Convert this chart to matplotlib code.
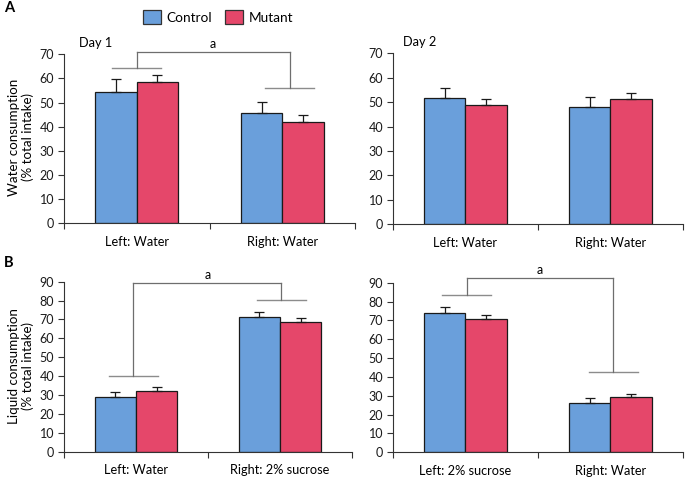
import numpy as np
import matplotlib
matplotlib.use("Agg")
import matplotlib.pyplot as plt
from matplotlib.patches import Patch

plt.rcParams["font.family"] = ["Lato", "DejaVu Sans"]

# Data (mean, upper SEM)
series = ["Control", "Mutant"]
colors = ["#6a9fdb", "#e5476a"]

a1_labels = ["Left: Water", "Right: Water"]
a1_control = [54.5, 45.6]
a1_control_err = [5.1, 4.8]
a1_mutant = [58.4, 41.8]
a1_mutant_err = [2.9, 2.9]

a2_labels = ["Left: Water", "Right: Water"]
a2_control = [51.8, 48.1]
a2_control_err = [3.9, 3.9]
a2_mutant = [48.7, 51.3]
a2_mutant_err = [2.5, 2.3]

b1_labels = ["Left: Water", "Right: 2% sucrose"]
b1_control = [29.1, 71.1]
b1_control_err = [2.7, 3.0]
b1_mutant = [32.3, 68.5]
b1_mutant_err = [2.1, 2.1]

b2_labels = ["Left: 2% sucrose", "Right: Water"]
b2_control = [74.1, 26.0]
b2_control_err = [2.9, 2.8]
b2_mutant = [70.8, 29.2]
b2_mutant_err = [1.9, 1.9]

# significance brackets: group line heights, bracket top, label height
a1_groups = [64.2, 56.2]
a1_top, a1_text = 71.1, 74.3
b1_groups = [40.1, 80.1]
b1_top, b1_text = 89.5, 93.3
b2_groups = [83.3, 42.8]
b2_top, b2_text = 92.4, 96.6

W, H = 685, 480
fig = plt.figure(figsize=(W / 100, H / 100), dpi=100)


def px_axes(x0, x1, y0, y1):
    # y0 = pixel of y=0 line, y1 = pixel of top
    return fig.add_axes([x0 / W, 1 - y0 / H, (x1 - x0) / W, (y0 - y1) / H])


def bar_panel(ax, labels, ctrl, ctrl_err, mut, mut_err, ymax, step):
    x = np.arange(len(labels))
    bw = 0.285
    for i, (vals, errs) in enumerate([(ctrl, ctrl_err), (mut, mut_err)]):
        ax.bar(x + (i - 0.5) * bw, vals, bw, color=colors[i], edgecolor="#1a1a1a",
               linewidth=0.9, zorder=2,
               yerr=[np.zeros(len(vals)), errs],
               error_kw=dict(ecolor="#1a1a1a", elinewidth=0.9, capsize=3.5, capthick=0.9))
    ax.set_xlim(-0.5, 1.5)
    ax.set_ylim(0, ymax)
    ax.set_yticks(np.arange(0, ymax + 1, step))
    ax.set_xticks([-0.5, 0.5, 1.5])
    ax.set_xticklabels([])
    ax.set_xticks(x, minor=True)
    ax.set_xticklabels(labels, minor=True, fontsize=9.2)
    ax.tick_params(axis="x", which="major", direction="out", length=4, width=0.8, colors="#333333")
    ax.tick_params(axis="x", which="minor", length=0, pad=9)
    ax.tick_params(axis="y", direction="out", length=4, width=0.8, labelsize=9, pad=3, colors="#333333")
    ax.tick_params(axis="both", labelcolor="#1a1a1a")
    for s in ["top", "right"]:
        ax.spines[s].set_visible(False)
    for s in ["left", "bottom"]:
        ax.spines[s].set_color("#333333")
        ax.spines[s].set_linewidth(0.8)


def bracket(ax, groups, top, text_y, centers=(0.0, 1.0), half=0.17):
    for c, g in zip(centers, groups):
        ax.plot([c - half, c + half], [g, g], color="#8c8c8c", lw=1.0, clip_on=False, zorder=3)
        ax.plot([c, c], [g, top], color="#6e6e6e", lw=0.9, clip_on=False, zorder=3)
    ax.plot(list(centers), [top, top], color="#6e6e6e", lw=0.9, clip_on=False, zorder=3)
    ax.text(np.mean(centers), text_y, "a", ha="center", va="center", fontsize=9, clip_on=False)


axA1 = px_axes(64, 355, 223.3, 54.3)
bar_panel(axA1, a1_labels, a1_control, a1_control_err, a1_mutant, a1_mutant_err, 70, 10)
bracket(axA1, a1_groups, a1_top, a1_text, centers=(0.0, 1.05))
axA1.text(0.05, 1.03, "Day 1", transform=axA1.transAxes, fontsize=9.2, va="bottom")

axA2 = px_axes(392.7, 683, 224.3, 53.3)
bar_panel(axA2, a2_labels, a2_control, a2_control_err, a2_mutant, a2_mutant_err, 70, 10)
axA2.text(0.035, 1.03, "Day 2", transform=axA2.transAxes, fontsize=9.2, va="bottom")

axB1 = px_axes(64, 352, 451.7, 281.7)
bar_panel(axB1, b1_labels, b1_control, b1_control_err, b1_mutant, b1_mutant_err, 90, 10)
bracket(axB1, b1_groups, b1_top, b1_text, centers=(-0.02, 1.01))

axB2 = px_axes(392.7, 683, 452.3, 282.7)
bar_panel(axB2, b2_labels, b2_control, b2_control_err, b2_mutant, b2_mutant_err, 90, 10)
bracket(axB2, b2_groups, b2_top, b2_text, centers=(0.01, 1.02))

# y labels
fig.text(21 / W, 1 - 137 / H, "Water consumption\n(% total intake)", rotation=90,
         ha="center", va="center", multialignment="center", fontsize=9.6, linespacing=1.2)
fig.text(21 / W, 1 - 366 / H, "Liquid consumption\n(% total intake)", rotation=90,
         ha="center", va="center", multialignment="center", fontsize=9.6, linespacing=1.2)

# panel letters
fig.text(4 / W, 1 - 8 / H, "A", fontsize=10.5, fontweight="bold", va="center", ha="left")
fig.text(4 / W, 1 - 263 / H, "B", fontsize=10.5, fontweight="bold", va="center", ha="left")

# legend
handles = [Patch(facecolor=c, edgecolor="#333333", linewidth=0.9, label=s) for s, c in zip(series, colors)]
fig.legend(handles=handles, loc="center", bbox_to_anchor=(218 / W, 1 - 17 / H), ncol=2,
           frameon=False, fontsize=9.8, handlelength=1.35, handleheight=1.25,
           handletextpad=0.4, columnspacing=0.9, borderpad=0)

fig.savefig("out.png", dpi=100)
